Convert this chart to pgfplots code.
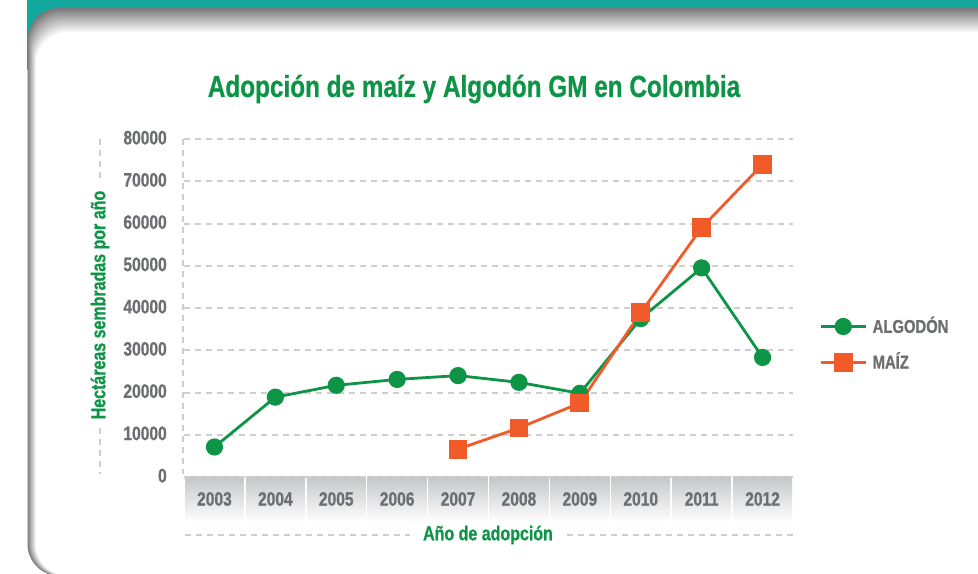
\documentclass[border=0pt]{standalone}
\usepackage{pgfplots}
\pgfplotsset{compat=1.18}
\usepackage{fontspec}
\setmainfont{Liberation Sans}[FakeStretch=0.8, FakeBold=0.7]
\definecolor{cgreen}{RGB}{14,148,70}
\definecolor{corange}{RGB}{241,90,41}
\definecolor{cgraytxt}{RGB}{109,110,113}
\definecolor{cteal}{RGB}{18,168,157}
\definecolor{cgrid}{RGB}{206,206,206}
\definecolor{cband}{RGB}{196,197,199}
\newcommand\lbl{\fontsize{14.6pt}{17pt}\selectfont\bfseries}
\newcommand\axlbl{\fontsize{15pt}{17pt}\selectfont\bfseries}
\begin{document}
\begin{tikzpicture}
% ---------- background panel (pixel coordinates) ----------
\begin{scope}[x=0.75pt,y=-0.75pt]
  \fill[cteal] (27,0) rectangle (978,70);
  \foreach \k in {0,...,12}{
    \pgfmathsetmacro\c{52-\k*52/12}
    \fill[black!\c, rounded corners=24pt] (27.5+\k*0.7,8+\k*2) rectangle (1100,576);
  }
  % x tick band
  \foreach \i in {0,...,9}{
    \shade[top color=cband, bottom color=white]
      (184+\i*60.9+1,476) rectangle (184+\i*60.9+59.9,522);
  }
  % dashed decorative lines
  \begin{scope}[cgrid, line width=1.5pt, dash pattern=on 4.5pt off 3.75pt]
    \draw (183,139) -- (183,474);
    \draw (100,139) -- (100,182);
    \draw (100,428) -- (100,474);
    \draw (185,535) -- (410,535);
    \draw (567,535) -- (793,535);
  \end{scope}
  \node[cgreen, font=\fontsize{22.8pt}{26pt}\selectfont\bfseries] at (474,89) {Adopción de maíz y Algodón GM en Colombia};
  \node[cgreen, font=\axlbl, rotate=90] at (100,305) {Hectáreas sembradas por año};
  \node[cgreen, font=\axlbl] at (488,535) {Año de adopción};
\end{scope}
% ---------- chart ----------
\begin{axis}[
  at={(138pt,-357.75pt)}, anchor=south west,
  scale only axis, width=456.75pt, height=253.5pt,
  xmin=-0.5, xmax=9.5, ymin=0, ymax=80000,
  xtick={0,...,9},
  xticklabels={2003,2004,2005,2006,2007,2008,2009,2010,2011,2012},
  ytick={0,10000,...,80000},
  scaled y ticks=false,
  /pgf/number format/set thousands separator={},
  /pgf/number format/assume math mode=true,
  major tick length=0pt,
  axis line style={draw=none},
  ymajorgrids,
  grid style={cgrid, line width=1.5pt, dash pattern=on 4.5pt off 3.75pt},
  xticklabel style={anchor=center, yshift=-16.5pt, font=\lbl, text=cgraytxt},
  yticklabel style={anchor=east, inner sep=0pt, xshift=-12.75pt, yshift=1pt, font=\lbl, text=cgraytxt},
  legend style={at={(1.036,0.392)}, anchor=west, draw=none, fill=none,
    font=\fontsize{13.9pt}{16pt}\selectfont\bfseries, text=cgraytxt,
    row sep=15pt, column sep=3pt, nodes={inner sep=1pt, text height=9.5pt, text depth=0pt}},
  legend cell align=left,
  legend image code/.code={\draw[mark repeat=2,mark phase=2,#1] plot coordinates {(0pt,0pt) (17pt,0pt) (34pt,0pt)};},
]
\addplot[cgreen, line width=2.1pt, mark=*, mark size=5.4pt, mark options={solid, fill=cgreen, draw=cgreen}]
  coordinates {(0,7100) (1,18900) (2,21700) (3,23100) (4,24000) (5,22400) (6,19800) (7,37500) (8,49500) (9,28300)};
\addlegendentry{ALGODÓN}
\addplot[corange, line width=2.1pt, mark=square*, mark size=6pt, mark options={solid, fill=corange, draw=corange}]
  coordinates {(4,6600) (5,11600) (6,17500) (7,38900) (8,59000) (9,74000)};
\addlegendentry{MAÍZ}
\end{axis}
\begin{scope}[x=0.75pt,y=-0.75pt]
\pgfresetboundingbox
\path[use as bounding box] (0,0) rectangle (978,574);
\end{scope}
\end{tikzpicture}
\end{document}
